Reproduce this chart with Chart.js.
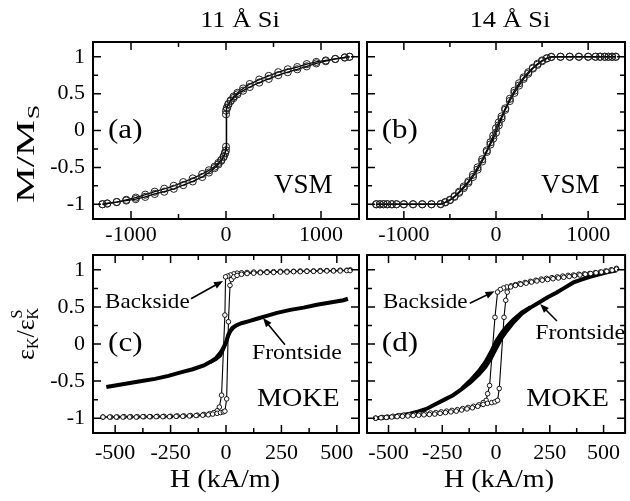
<!DOCTYPE html>
<html>
<head>
<meta charset="utf-8">
<script src="https://cdn.jsdelivr.net/npm/chart.js@4.4.1/dist/chart.umd.min.js"></script>
<style>
  html, body { margin: 0; padding: 0; background: #fff; }
  #wrap { position: relative; width: 630px; height: 501px; }
  #wrap canvas { position: absolute; left: 0; top: 0; }
</style>
</head>
<body>
<div id="wrap">
  <canvas id="pa" width="630" height="501"></canvas>
  <canvas id="pb" width="630" height="501"></canvas>
  <canvas id="pc" width="630" height="501"></canvas>
  <canvas id="pd" width="630" height="501"></canvas>
</div>
<script>
// ---- ticks ----
const H_TICKS_VSM = [-1000, -500, 0, 500, 1000];
const H_LABELS_VSM = [-1000, 0, 1000];
const H_TICKS_MOKE = [-500, -375, -250, -125, 0, 125, 250, 375, 500];
const H_LABELS_MOKE = [-500, -250, 0, 250, 500];
const M_TICKS = [-1, -0.75, -0.5, -0.25, 0, 0.25, 0.5, 0.75, 1];
const M_LABELS = [-1, -0.5, 0, 0.5, 1];

// ---- (a) 11 Å Si, VSM ----
const H_A = [-1300,-1250,-1150,-1050,-950,-850,-750,-650,-550,-450,-350,-250,-180,-120,-80,-50,-25,-10,0,0,10,25,50,80,120,180,250,350,450,550,650,750,850,950,1050,1150,1250,1300];
const M_A_ASC = [-1.0,-0.99,-0.97,-0.95,-0.93,-0.9,-0.86,-0.83,-0.79,-0.74,-0.69,-0.63,-0.57,-0.51,-0.46,-0.41,-0.36,-0.31,-0.27,0.22,0.30,0.35,0.40,0.44,0.49,0.54,0.59,0.65,0.70,0.75,0.79,0.83,0.87,0.91,0.94,0.97,0.99,1.0];
const M_A_DESC = [-1.0,-0.99,-0.97,-0.94,-0.91,-0.87,-0.83,-0.79,-0.75,-0.70,-0.65,-0.59,-0.54,-0.49,-0.44,-0.40,-0.35,-0.30,-0.22,0.27,0.31,0.36,0.41,0.46,0.51,0.57,0.63,0.69,0.74,0.79,0.83,0.86,0.90,0.93,0.95,0.97,0.99,1.0];

// ---- (b) 14 Å Si, VSM ----
const H_B = [-1300,-1260,-1220,-1180,-1130,-1080,-1000,-900,-800,-700,-600,-550,-500,-450,-400,-350,-300,-250,-200,-150,-100,-60,-30,0,30,60,100,150,200,250,300,350,400,450,500,550,600,700,800,900,1000,1080,1130,1180,1220,1260,1300];
const M_B_ASC = [-1,-1,-1,-1,-1,-1,-1,-1,-1,-1,-1.0,-0.975,-0.945,-0.9,-0.845,-0.78,-0.71,-0.63,-0.53,-0.42,-0.29,-0.19,-0.11,-0.03,0.07,0.16,0.28,0.40,0.51,0.61,0.70,0.77,0.84,0.89,0.94,0.975,0.995,1,1,1,1,1,1,1,1,1,1];
const M_B_DESC = [-1,-1,-1,-1,-1,-1,-1,-1,-1,-1,-0.995,-0.97,-0.94,-0.89,-0.83,-0.76,-0.69,-0.6,-0.5,-0.39,-0.27,-0.16,-0.07,0.03,0.11,0.19,0.30,0.43,0.54,0.64,0.72,0.79,0.85,0.905,0.95,0.98,1.0,1,1,1,1,1,1,1,1,1,1];

// ---- (c) 11 Å Si, MOKE ----
const H_C_BACK_ASC = [-555,-525,-495,-465,-435,-405,-375,-345,-315,-285,-255,-225,-195,-165,-135,-105,-80,-60,-40,-25,-12,-5,3,11,18,25,35,50,70,95,125,155,185,215,245,275,305,335,365,395,425,455,485,515,545,560];
const M_C_BACK_ASC = [-0.985,-0.985,-0.985,-0.985,-0.985,-0.985,-0.98,-0.98,-0.98,-0.98,-0.98,-0.975,-0.975,-0.97,-0.965,-0.96,-0.955,-0.945,-0.935,-0.925,-0.915,-0.905,-0.74,0.30,0.79,0.87,0.905,0.925,0.94,0.95,0.955,0.96,0.965,0.965,0.97,0.97,0.975,0.975,0.98,0.98,0.98,0.985,0.985,0.985,0.99,0.99];
const H_C_BACK_DESC = [560,545,515,485,455,425,395,365,335,305,275,245,215,185,155,125,95,70,50,35,20,8,-2,-5,-20,-30,-40,-55,-75,-100,-130,-160,-190,-220,-250,-280,-310,-340,-370,-400,-430,-460,-490,-520,-555];
const M_C_BACK_DESC = [1.0,0.995,0.995,0.99,0.99,0.99,0.985,0.985,0.985,0.98,0.98,0.98,0.975,0.975,0.97,0.97,0.965,0.96,0.955,0.945,0.93,0.915,0.905,0.39,-0.69,-0.85,-0.9,-0.925,-0.94,-0.95,-0.96,-0.965,-0.97,-0.97,-0.975,-0.975,-0.975,-0.98,-0.98,-0.98,-0.98,-0.98,-0.985,-0.985,-0.985];
const H_C_FRONT = [-540,-500,-440,-380,-320,-260,-200,-150,-100,-70,-45,-25,-10,0,10,20,30,45,70,100,140,180,230,290,350,410,470,530,550];
const M_C_FRONT = [-0.58,-0.56,-0.53,-0.50,-0.47,-0.43,-0.38,-0.34,-0.29,-0.24,-0.19,-0.12,-0.04,0.02,0.12,0.18,0.22,0.25,0.28,0.305,0.34,0.375,0.42,0.46,0.49,0.53,0.56,0.59,0.61];
const H_C_FRONT_RET = [-70,-45,-25,-12,-2,8,20,35,55];
const M_C_FRONT_RET = [-0.25,-0.21,-0.16,-0.08,0.0,0.09,0.17,0.22,0.26];

// ---- (d) 14 Å Si, MOKE ----
const H_D_BACK_DESC = [560,535,510,485,460,435,410,385,360,335,310,285,260,235,210,185,160,135,110,90,70,50,35,20,7,-5,-30,-39,-46,-60,-80,-105,-130,-155,-180,-205,-230,-255,-280,-305,-330,-355,-380,-405,-430,-455,-480,-505,-530,-560];
const M_D_BACK_DESC = [1.02,1.0,0.985,0.97,0.96,0.95,0.945,0.94,0.93,0.925,0.915,0.905,0.895,0.885,0.875,0.86,0.845,0.83,0.815,0.8,0.785,0.77,0.755,0.735,0.70,0.36,-0.56,-0.67,-0.76,-0.79,-0.82,-0.84,-0.855,-0.87,-0.885,-0.895,-0.905,-0.915,-0.925,-0.93,-0.94,-0.945,-0.95,-0.955,-0.96,-0.965,-0.975,-0.985,-0.99,-1.0];
const H_D_BACK_ASC = [-560,-535,-510,-485,-460,-435,-410,-385,-360,-335,-310,-285,-260,-235,-210,-185,-160,-135,-110,-85,-60,-40,-20,-5,7,15,37,45,52,68,90,115,140,165,190,215,240,265,290,315,340,365,390,415,440,465,490,515,540,560];
const M_D_BACK_ASC = [-1.0,-0.995,-0.99,-0.985,-0.98,-0.975,-0.97,-0.965,-0.96,-0.955,-0.95,-0.945,-0.935,-0.925,-0.915,-0.905,-0.89,-0.875,-0.86,-0.84,-0.815,-0.8,-0.79,-0.78,-0.76,-0.60,0.36,0.59,0.70,0.77,0.79,0.805,0.82,0.835,0.85,0.86,0.87,0.88,0.89,0.9,0.91,0.92,0.93,0.94,0.95,0.96,0.97,0.98,0.995,1.01];
const H_D_FRONT = [-560,-520,-480,-440,-400,-360,-320,-280,-240,-200,-160,-120,-80,-50,-25,0,25,50,80,120,160,200,240,280,320,360,400,440,480,520,560];
const M_D_FRONT = [-1.0,-0.99,-0.98,-0.96,-0.94,-0.91,-0.87,-0.81,-0.75,-0.69,-0.61,-0.52,-0.41,-0.31,-0.2,-0.06,0.08,0.18,0.29,0.41,0.49,0.56,0.63,0.69,0.76,0.83,0.87,0.91,0.94,0.97,0.99];
const H_D_FRONT_RET = [-160,-120,-80,-50,-25,0,25,50,80,120,160];
const M_D_FRONT_RET = [-0.6,-0.49,-0.36,-0.24,-0.11,0.04,0.15,0.24,0.33,0.43,0.5];

const SERIF = "'Liberation Serif', 'Times New Roman', serif";
Chart.defaults.font.family = SERIF;
Chart.defaults.color = '#000';

function pts(hs, ms) {
    return hs.map((h, i) => ({ x: h, y: ms[i] }));
}

function vsmSet(hs, ms) {
    return {
        data: pts(hs, ms), showLine: true, borderColor: '#000', borderWidth: 1.3,
        pointRadius: 3.6, pointBorderWidth: 1, pointBorderColor: '#222',
        pointBackgroundColor: 'rgba(255,255,255,0)'
    };
}
function backSet(hs, ms) {
    return {
        data: pts(hs, ms), showLine: true, borderColor: '#000', borderWidth: 1.1,
        pointRadius: 2.3, pointBorderWidth: 0.9, pointBorderColor: '#000',
        pointBackgroundColor: '#fff'
    };
}
function frontSet(hs, ms, w) {
    return {
        data: pts(hs, ms), showLine: true, borderColor: '#000', borderWidth: w || 4,
        pointRadius: 0
    };
}

function txt(ctx, s, x, y, size, align, sx) {
    ctx.save();
    ctx.font = size + 'px ' + SERIF;
    ctx.fillStyle = '#000';
    ctx.textAlign = align || 'left';
    ctx.textBaseline = 'middle';
    ctx.translate(x, y);
    ctx.scale(sx || 1, 1);
    ctx.fillText(s, 0, 0);
    ctx.restore();
}

function arrow(ctx, x0, y0, x1, y1) {
    const a = Math.atan2(y1 - y0, x1 - x0), L = 9, W = 3.5;
    const c = Math.cos(a), s = Math.sin(a);
    ctx.save();
    ctx.strokeStyle = '#000';
    ctx.fillStyle = '#000';
    ctx.lineWidth = 1.6;
    ctx.beginPath();
    ctx.moveTo(x0, y0);
    ctx.lineTo(x1 - L * 0.7 * c, y1 - L * 0.7 * s);
    ctx.stroke();
    ctx.beginPath();
    ctx.moveTo(x1, y1);
    ctx.lineTo(x1 - L * c + W * s, y1 - L * s - W * c);
    ctx.lineTo(x1 - L * c - W * s, y1 - L * s + W * c);
    ctx.closePath();
    ctx.fill();
    ctx.restore();
}

// frame and inward ticks on all four sides
function framePlugin(xLabels) {
    return {
        id: 'frame',
        afterDatasetsDraw(chart) {
            const { ctx, chartArea: ar, scales: { x, y } } = chart;
            ctx.save();
            ctx.strokeStyle = '#000';
            ctx.lineWidth = 1.5;
            ctx.beginPath();
            x.ticks.forEach(t => {
                const p = x.getPixelForValue(t.value);
                const len = xLabels.includes(t.value) ? 8 : 5;
                ctx.moveTo(p, ar.bottom); ctx.lineTo(p, ar.bottom - len);
                ctx.moveTo(p, ar.top); ctx.lineTo(p, ar.top + len);
            });
            y.ticks.forEach(t => {
                const p = y.getPixelForValue(t.value);
                const len = M_LABELS.includes(t.value) ? 8 : 5;
                ctx.moveTo(ar.left, p); ctx.lineTo(ar.left + len, p);
                ctx.moveTo(ar.right, p); ctx.lineTo(ar.right - len, p);
            });
            ctx.stroke();
            ctx.lineWidth = 2;
            ctx.strokeRect(ar.left, ar.top, ar.right - ar.left, ar.bottom - ar.top);
            ctx.restore();
        }
    };
}

// texts and arrows placed in data units, plus free labels
function decorPlugin(draw) {
    return {
        id: 'decor',
        afterDraw(chart) {
            const { ctx, scales: { x, y } } = chart;
            const X = v => x.getPixelForValue(v), Y = v => y.getPixelForValue(v);
            draw(ctx, X, Y);
        }
    };
}

function makeChart(id, box, xr, xTicks, xLabels, showY, tickPad, datasets, draw) {
    return new Chart(document.getElementById(id), {
        type: 'scatter',
        data: { datasets: datasets },
        options: {
            responsive: false,
            animation: false,
            events: [],
            devicePixelRatio: 1,
            layout: { padding: { left: 0, top: box.t, right: 630 - box.r, bottom: 501 - box.b - 30 } },
            plugins: { legend: { display: false }, tooltip: { enabled: false } },
            elements: { line: { tension: 0 } },
            scales: {
                x: {
                    type: 'linear', min: xr[0], max: xr[1],
                    afterBuildTicks: s => { s.ticks = xTicks.map(v => ({ value: v })); },
                    afterFit: s => { s.height = 30; },
                    grid: { display: false, drawTicks: false },
                    border: { display: false },
                    ticks: {
                        padding: tickPad, autoSkip: false, maxRotation: 0, font: { size: 22 },
                        callback: v => xLabels.includes(v) ? String(v) : ''
                    }
                },
                y: {
                    type: 'linear', min: -1.2, max: 1.2,
                    afterBuildTicks: s => { s.ticks = M_TICKS.map(v => ({ value: v })); },
                    afterFit: s => { s.width = box.l; },
                    grid: { display: false, drawTicks: false },
                    border: { display: false },
                    ticks: {
                        display: showY, padding: 8, autoSkip: false, font: { size: 22 },
                        callback: v => M_LABELS.includes(v) ? String(v) : ''
                    }
                }
            }
        },
        plugins: [framePlugin(xLabels), decorPlugin(draw)]
    });
}

makeChart('pa', { l: 93, t: 42, r: 359, b: 219 }, [-1400, 1400], H_TICKS_VSM, H_LABELS_VSM, true, 3,
    [vsmSet(H_A, M_A_ASC), vsmSet(H_A, M_A_DESC)],
    (ctx, X, Y) => {
        txt(ctx, '11 Å Si', 240, 21, 24, 'center', 1.1);
        txt(ctx, '(a)', X(-1242), Y(0), 27, 'left', 1.15);
        txt(ctx, 'VSM', X(505), Y(-0.75), 27, 'left', 1.0);
        // y label M/M_S
        ctx.save();
        ctx.translate(27, 203);
        ctx.rotate(-Math.PI / 2);
        ctx.scale(1.55, 1);
        ctx.fillStyle = '#000';
        ctx.textBaseline = 'middle';
        ctx.font = '26px ' + SERIF;
        ctx.fillText('M/M', 0, 0);
        const w = ctx.measureText('M/M').width;
        ctx.font = '17px ' + SERIF;
        ctx.fillText('S', w + 0.5, 8);
        ctx.restore();
    });

makeChart('pb', { l: 367, t: 42, r: 628, b: 219 }, [-1400, 1400], H_TICKS_VSM, H_LABELS_VSM, false, 3,
    [vsmSet(H_B, M_B_ASC), vsmSet(H_B, M_B_DESC)],
    (ctx, X, Y) => {
        txt(ctx, '14 Å Si', 510, 21, 24, 'center', 1.1);
        txt(ctx, '(b)', X(-1240), Y(0), 27, 'left', 1.15);
        txt(ctx, 'VSM', X(488), Y(-0.75), 27, 'left', 1.0);
    });

makeChart('pc', { l: 93, t: 255, r: 359, b: 433 }, [-600, 600], H_TICKS_MOKE, H_LABELS_MOKE, true, 7,
    [backSet(H_C_BACK_ASC, M_C_BACK_ASC), backSet(H_C_BACK_DESC, M_C_BACK_DESC),
     frontSet(H_C_FRONT, M_C_FRONT), frontSet(H_C_FRONT_RET, M_C_FRONT_RET, 3)],
    (ctx, X, Y) => {
        txt(ctx, '(c)', X(-532), Y(0), 27, 'left', 1.15);
        txt(ctx, 'MOKE', X(140), Y(-0.75), 26, 'left', 1.08);
        txt(ctx, 'Backside', X(-546), Y(0.57), 22, 'left', 1.05);
        txt(ctx, 'Frontside', X(117), Y(-0.12), 22, 'left', 1.08);
        arrow(ctx, X(-158), Y(0.61), X(-13.5), Y(0.85));
        arrow(ctx, X(266), Y(-0.01), X(167), Y(0.35));
        txt(ctx, 'H (kA/m)', 225, 480, 26, 'center', 1.08);
        // y label eps_K / eps_K^S
        ctx.save();
        ctx.translate(27, 360);
        ctx.rotate(-Math.PI / 2);
        ctx.fillStyle = '#000';
        ctx.textBaseline = 'middle';
        let cx = 0;
        const big = '26px ' + SERIF, sm = '16px ' + SERIF;
        ctx.font = big; ctx.fillText('ε', cx, 0); cx += ctx.measureText('ε').width;
        ctx.font = sm; ctx.fillText('K', cx, 7); cx += ctx.measureText('K').width;
        ctx.font = big; ctx.fillText('/', cx, 0); cx += ctx.measureText('/').width;
        ctx.fillText('ε', cx, 0); cx += ctx.measureText('ε').width;
        ctx.font = sm; ctx.fillText('K', cx, 7); ctx.fillText('S', cx + 1, -9);
        ctx.restore();
    });

makeChart('pd', { l: 367, t: 255, r: 628, b: 433 }, [-600, 600], H_TICKS_MOKE, H_LABELS_MOKE, false, 7,
    [backSet(H_D_BACK_ASC, M_D_BACK_ASC), backSet(H_D_BACK_DESC, M_D_BACK_DESC),
     frontSet(H_D_FRONT, M_D_FRONT), frontSet(H_D_FRONT_RET, M_D_FRONT_RET, 3.5)],
    (ctx, X, Y) => {
        txt(ctx, '(d)', X(-531), Y(0), 27, 'left', 1.15);
        txt(ctx, 'MOKE', X(140), Y(-0.75), 26, 'left', 1.08);
        txt(ctx, 'Backside', X(-526), Y(0.57), 22, 'left', 1.05);
        txt(ctx, 'Frontside', X(182), Y(0.15), 22, 'left', 1.08);
        arrow(ctx, X(-122), Y(0.55), X(-7), Y(0.71));
        arrow(ctx, X(283), Y(0.31), X(205), Y(0.54));
        txt(ctx, 'H (kA/m)', 499, 480, 26, 'center', 1.08);
    });
</script>
</body>
</html>
